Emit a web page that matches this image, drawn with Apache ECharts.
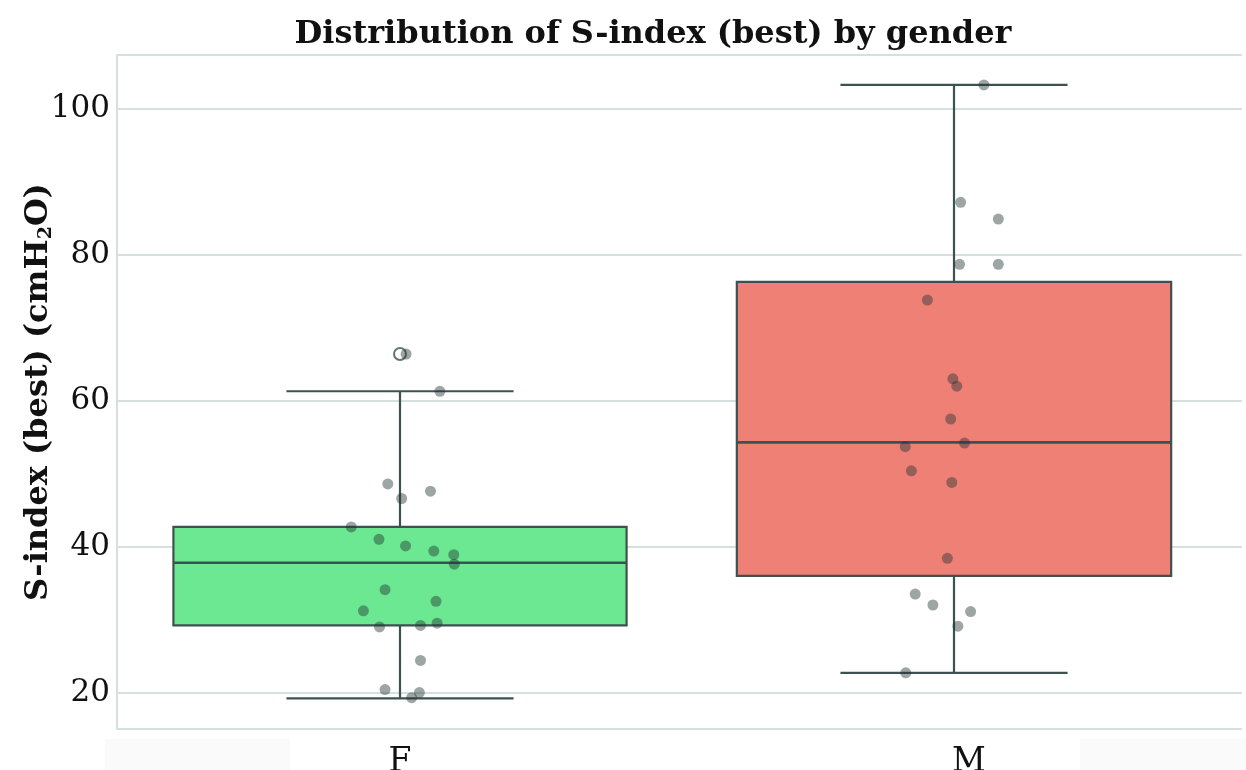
<!DOCTYPE html>
<html>
<head>
<meta charset="utf-8">
<script src="https://cdn.jsdelivr.net/npm/echarts@6/dist/echarts.min.js"></script>
<style>
  html, body { margin: 0; padding: 0; background: #ffffff; }
  #chart { width: 1246px; height: 770px; }
</style>
</head>
<body>
<div id="chart"></div>
<script>
// Groups on the x axis
const categories = ['F', 'M'];

// Five-number summaries: [lower whisker, Q1, median, Q3, upper whisker]
const boxF = [19.2, 29.2, 37.8, 42.7, 61.3];
const boxM = [22.7, 36.0, 54.3, 76.3, 103.3];

// Values beyond the whiskers
const outliersF = [66.4];

// Individual observations (S-index, cmH2O) and their horizontal jitter within the group
const valuesF = [48.6, 47.6, 46.6, 61.3, 66.4, 42.7, 41.0, 40.1, 39.4, 38.9, 37.6,
                 34.1, 32.5, 31.2, 29.0, 29.2, 29.5, 24.4, 20.4, 20.0, 19.3];
const jitterF = [-0.022, 0.055, 0.003, 0.072, 0.011, -0.088, -0.038, 0.010, 0.061, 0.097, 0.098,
                 -0.027, 0.065, -0.066, -0.037, 0.037, 0.067, 0.037, -0.027, 0.035, 0.021];

const valuesM = [103.3, 87.2, 84.9, 78.7, 78.7, 73.8, 63.0, 62.0, 57.5, 54.2, 53.7,
                 50.4, 48.8, 38.4, 33.5, 32.0, 31.1, 29.1, 22.7];
const jitterM = [0.054, 0.012, 0.080, 0.010, 0.080, -0.048, -0.002, 0.005, -0.006, 0.019, -0.088,
                 -0.077, -0.004, -0.012, -0.070, -0.038, 0.030, 0.007, -0.087];

// Y axis tick values and range
const yTicks = [20, 40, 60, 80, 100];
const yMin = 15;
const yMax = 107.4;

// Styling
const boxColors = ['#6be891', '#ef8076'];
const boxHalfWidths = [0.409, 0.392];   // fraction of the category band
const LINE = '#3d5151';
const GRID = '#d5e0de';
const SERIF = '"DejaVu Serif", "Liberation Serif", serif';

const boxData = [
  [0].concat(boxF),
  [1].concat(boxM)
];

const pointData = []
  .concat(valuesF.map((v, i) => [0 + jitterF[i], v]))
  .concat(valuesM.map((v, i) => [1 + jitterM[i], v]));

const outlierData = outliersF.map(v => [0, v]);

// Box, median, whiskers and half-width whisker caps
function renderBox(params, api) {
  const idx = api.value(0);
  const lo = api.coord([idx, api.value(1)]);
  const q1 = api.coord([idx, api.value(2)]);
  const md = api.coord([idx, api.value(3)]);
  const q3 = api.coord([idx, api.value(4)]);
  const hi = api.coord([idx, api.value(5)]);
  const band = api.size([1, 0])[0];
  const half = band * boxHalfWidths[params.dataIndex];
  const cap = band * 0.205;
  const cx = lo[0];
  const stroke = { stroke: LINE, lineWidth: 2.2 };
  return {
    type: 'group',
    children: [
      { type: 'line', shape: { x1: cx, y1: hi[1], x2: cx, y2: q3[1] }, style: stroke },
      { type: 'line', shape: { x1: cx, y1: q1[1], x2: cx, y2: lo[1] }, style: stroke },
      { type: 'line', shape: { x1: cx - cap, y1: hi[1], x2: cx + cap, y2: hi[1] }, style: stroke },
      { type: 'line', shape: { x1: cx - cap, y1: lo[1], x2: cx + cap, y2: lo[1] }, style: stroke },
      { type: 'rect', shape: { x: cx - half, y: q3[1], width: half * 2, height: q1[1] - q3[1] },
        style: { fill: boxColors[params.dataIndex], stroke: LINE, lineWidth: 2.2 } },
      { type: 'line', shape: { x1: cx - half, y1: md[1], x2: cx + half, y2: md[1] },
        style: { stroke: LINE, lineWidth: 2.6 } }
    ]
  };
}

const chart = echarts.init(document.getElementById('chart'), null, { renderer: 'canvas' });

chart.setOption({
  animation: false,
  backgroundColor: '#ffffff',
  title: {
    text: 'Distribution of S-index (best) by gender',
    left: 648,
    top: 14,
    textAlign: 'center',
    textStyle: { fontFamily: SERIF, fontWeight: 'bold', fontSize: 32, color: '#111111' }
  },
  graphic: [
    { type: 'rect', shape: { x: 105, y: 739, width: 185, height: 31 }, style: { fill: '#fafafa' }, z: -1 },
    { type: 'rect', shape: { x: 1080, y: 739, width: 166, height: 31 }, style: { fill: '#fafafa' }, z: -1 }
  ],
  grid: [
    { left: 117, right: 4, top: 55, bottom: 41, outerBoundsMode: 'none', containLabel: false },
    { left: 123, right: 15, top: 55, bottom: 41, outerBoundsMode: 'none', containLabel: false }
  ],
  xAxis: [
    { gridIndex: 0, type: 'value', show: false, min: 0, max: 1 },
    {
      gridIndex: 1, type: 'category', data: categories,
      axisLine: { show: false }, axisTick: { show: false },
      axisLabel: {
        fontFamily: SERIF, fontSize: 33, color: '#111111', margin: 17,
        formatter: (v) => v === 'M' ? '{m|' + v + '}' : v,
        rich: { m: { fontFamily: SERIF, fontSize: 33, color: '#111111', padding: [0, 0, 0, 30] } }
      }
    },
    { gridIndex: 1, type: 'value', show: false, min: -0.5, max: 1.5 }
  ],
  yAxis: [
    {
      gridIndex: 0, type: 'value', min: yMin, max: yMax,
      name: '{t|S-index (best) (cmH}{s|2}{t|O)}',
      nameLocation: 'middle', nameGap: 61, nameRotate: 90,
      nameMoveOverlap: false,
      nameTextStyle: {
        rich: {
          t: { fontFamily: SERIF, fontWeight: 'bold', fontSize: 32, color: '#111111' },
          s: { fontFamily: SERIF, fontWeight: 'bold', fontSize: 19, color: '#111111', padding: [16, 0, 0, 0] }
        }
      },
      axisLine: { show: true, lineStyle: { color: GRID, width: 2 } },
      // tick positions drive the grid lines, including the frame at both ends
      axisTick: { show: false, customValues: [yMin].concat(yTicks, [yMax]) },
      axisLabel: {
        customValues: yTicks,
        fontFamily: SERIF, fontSize: 31, color: '#111111', margin: 7
      },
      splitLine: { show: true, lineStyle: { color: GRID, width: 2 } }
    },
    { gridIndex: 1, type: 'value', min: yMin, max: yMax, show: false, splitLine: { show: false } }
  ],
  series: [
    {
      type: 'custom',
      xAxisIndex: 1, yAxisIndex: 1,
      renderItem: renderBox,
      encode: { x: 0, y: [1, 2, 3, 4, 5] },
      data: boxData,
      z: 2
    },
    {
      type: 'scatter',
      xAxisIndex: 1, yAxisIndex: 1,
      data: outlierData,
      symbol: 'circle', symbolSize: 12,
      itemStyle: { color: '#ffffff', borderColor: LINE, borderWidth: 2 },
      z: 3
    },
    {
      type: 'scatter',
      xAxisIndex: 2, yAxisIndex: 1,
      data: pointData,
      symbol: 'circle', symbolSize: 11,
      itemStyle: { color: 'rgba(34, 50, 50, 0.55)' },
      z: 4
    }
  ]
});
</script>
</body>
</html>
